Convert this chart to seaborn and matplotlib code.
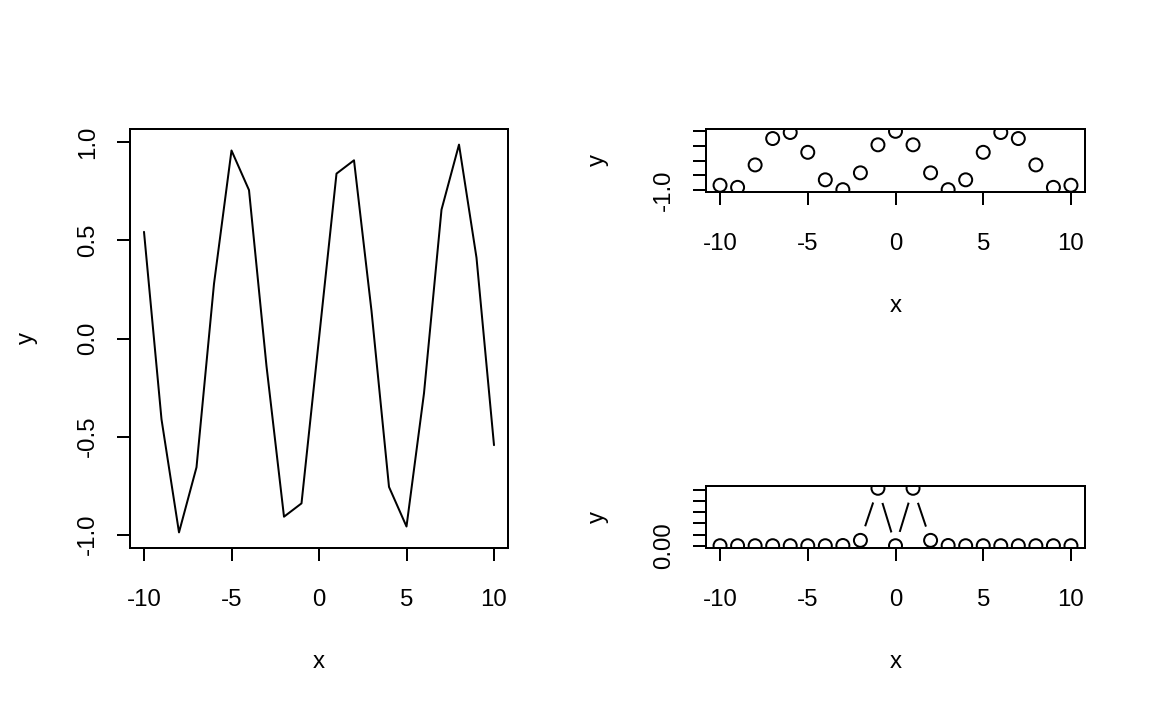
import numpy as np
import pandas as pd
import seaborn as sns
import matplotlib
matplotlib.use("Agg")
import matplotlib.pyplot as plt

# valores
x_vals = list(range(-10, 11))
seno = [0.544, -0.412, -0.989, -0.657, 0.279, 0.959, 0.757, -0.141, -0.909, -0.841,
        0.0, 0.841, 0.909, 0.141, -0.757, -0.959, -0.279, 0.657, 0.989, 0.412, -0.544]
cosseno = [-0.839, -0.911, -0.146, 0.754, 0.960, 0.284, -0.654, -0.990, -0.416, 0.540,
           1.0, 0.540, -0.416, -0.990, -0.654, 0.284, 0.960, 0.754, -0.146, -0.911, -0.839]
pico = [0.0, 0.0, 0.0, 0.0, 0.0, 0.0, 0.0, 0.001, 0.024, 0.258,
        0.0, 0.258, 0.024, 0.001, 0.0, 0.0, 0.0, 0.0, 0.0, 0.0, 0.0]
x_ticks = [-10, -5, 0, 5, 10]

df = pd.DataFrame({"x": x_vals, "seno": seno, "cosseno": cosseno, "pico": pico})

sns.set_theme(style="white")
plt.rcParams['font.family'] = ['Liberation Sans', 'DejaVu Sans']
plt.rcParams['font.size'] = 12

fig = plt.figure(figsize=(8, 711 / 144), dpi=144)
W, H = 1152, 711
LW = 1.0


def caixa(x0, y0, x1, y1):
    return fig.add_axes([x0 / W, 1 - y1 / H, (x1 - x0) / W, (y1 - y0) / H])


def estilo(ax, yticks, ylabels, ylim, xlab_y, ylab_x):
    ax.set_xlim(-10.8, 10.8)
    ax.set_ylim(*ylim)
    ax.set_xticks(x_ticks)
    ax.set_xticklabels([str(t) for t in x_ticks])
    ax.set_yticks(yticks)
    ax.set_yticklabels(ylabels, rotation=90, va="center")
    for s in ax.spines.values():
        s.set_visible(True)
        s.set_color("black")
        s.set_linewidth(LW)
    ax.tick_params(direction="out", length=6.5, width=LW, color="black",
                   labelsize=12, labelcolor="black", bottom=True, left=True)
    ax.tick_params(axis="x", pad=14)
    ax.tick_params(axis="y", pad=9)
    ax.set_xlabel("x", fontsize=12, color="black")
    ax.set_ylabel("y", fontsize=12, color="black")
    ax.xaxis.label.set_va("center")
    ax.yaxis.label.set_va("center")
    ax.xaxis.set_label_coords(0.5, xlab_y)
    ax.yaxis.set_label_coords(ylab_x, 0.5)


# painel esquerdo: linha
ax1 = caixa(130, 129, 508, 548)
sns.lineplot(data=df, x="x", y="seno", ax=ax1, color="black", linewidth=LW)
estilo(ax1, [-1.0, -0.5, 0.0, 0.5, 1.0], ["-1.0", "-0.5", "0.0", "0.5", "1.0"],
       (-1.0686, 1.0686), -0.272, -0.272)

# painel superior direito: pontos
ax2 = caixa(706, 129, 1085, 192)
sns.scatterplot(data=df, x="x", y="cosseno", ax=ax2, marker="o", s=42,
                facecolor="none", edgecolor="black", linewidth=LW, zorder=3)
estilo(ax2, [-1.0, -0.5, 0.0, 0.5, 1.0], ["-1.0", "", "", "", ""],
       (-1.0696, 1.0796), -1.81, -0.285)

# painel inferior direito: tipo "b" (linhas com intervalo em volta dos pontos)
ax3 = caixa(706, 486, 1085, 548)
sns.lineplot(data=df, x="x", y="pico", ax=ax3, color="black", linewidth=LW, zorder=2)
ax3.scatter(df["x"], df["pico"], s=225, color="white", linewidths=0, zorder=2.2)
sns.scatterplot(data=df, x="x", y="pico", ax=ax3, marker="o", s=42,
                facecolor="none", edgecolor="black", linewidth=LW, zorder=3)
estilo(ax3, [0.0, 0.05, 0.10, 0.15, 0.20, 0.25], ["0.00", "", "", "", "", ""],
       (-0.0103, 0.2683), -1.84, -0.285)

fig.savefig("out.png", dpi=144, facecolor="white")
